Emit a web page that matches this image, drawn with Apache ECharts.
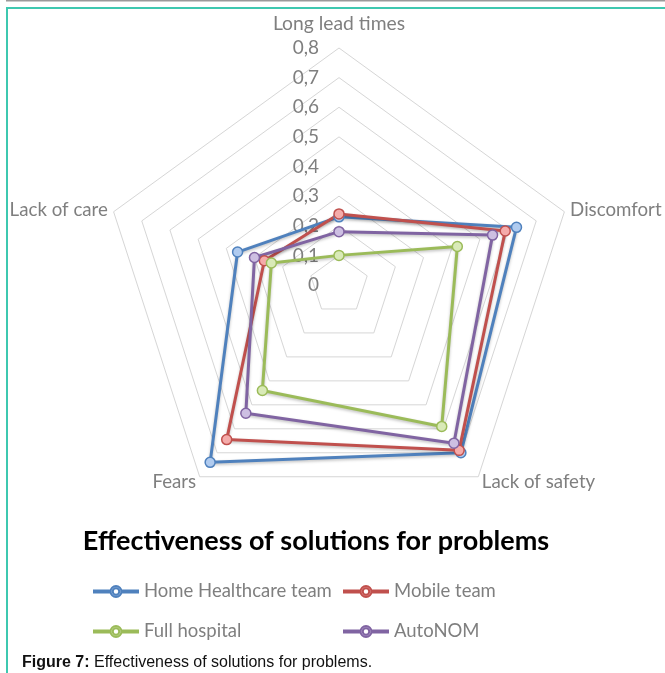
<!DOCTYPE html>
<html>
<head>
<meta charset="utf-8">
<script src="https://cdn.jsdelivr.net/npm/echarts@6/dist/echarts.min.js"></script>
<style>
html,body{margin:0;padding:0;background:#fff;}
#c{width:665px;height:673px;}
</style>
</head>
<body>
<div id="c"></div>
<script>
// Indicators in ECharts order (counter-clockwise from the top)
const indicators = ['Long lead times', 'Lack of care', 'Fears', 'Lack of safety', 'Discomfort'];
const seriesNames = ['Home Healthcare team', 'Mobile team', 'Full hospital', 'AutoNOM'];
const homeHealthcare = [0.23, 0.36, 0.74, 0.70, 0.63];
const mobileTeam     = [0.24, 0.265, 0.645, 0.69, 0.59];
const fullHospital   = [0.10, 0.24, 0.44, 0.59, 0.42];
const autoNOM        = [0.18, 0.30, 0.535, 0.66, 0.545];
const axisMax = 0.8;
const axisSplits = 8;

const mainColors = ['#4F81BD', '#C0504D', '#9BBB59', '#8064A2'];
const fillColors = ['#B0CBEF', '#F4ABAA', '#D9EAB8', '#CDBFE2'];
const values = [homeHealthcare, mobileTeam, fullHospital, autoNOM];

const legendIcon = 'path://M0,5h16v2h-16z M28,5h16v2h-16z M16.5,6a5.5,5.5 0 1,0 11,0a5.5,5.5 0 1,0 -11,0z M18.8,6a3.2,3.2 0 1,1 6.4,0a3.2,3.2 0 1,1 -6.4,0z';
const legendPos = [[88, 577], [338, 577], [88, 617], [338, 617]];

const chart = echarts.init(document.getElementById('c'));
chart.setOption({
  backgroundColor: '#fff',
  animation: false,
  title: [
    {
      text: 'Effectiveness of solutions for problems',
      left: 311, textAlign: 'center', top: 523,
      textStyle: {color: '#000', fontSize: 27, fontWeight: 'bold', fontFamily: 'Lato'}
    },
    {
      text: '{b|Figure 7:} Effectiveness of solutions for problems.',
      left: 17, top: 650,
      textStyle: {
        color: '#111', fontSize: 16, fontWeight: 'normal', fontFamily: 'Liberation Sans',
        rich: {b: {fontWeight: 'bold', fontSize: 16, fontFamily: 'Liberation Sans', color: '#111'}}
      }
    }
  ],
  legend: seriesNames.map((n, i) => ({
    icon: legendIcon,
    itemWidth: 44,
    itemHeight: 12,
    left: legendPos[i][0],
    top: legendPos[i][1],
    data: [n],
    textStyle: {color: '#7f7f7f', fontSize: 18.5, fontFamily: 'Lato', padding: [0, 0, 0, 1]}
  })),
  radar: {
    center: [339, 285],
    radius: 237,
    startAngle: 90,
    splitNumber: axisSplits,
    shape: 'polygon',
    nameGap: 6,
    axisName: {
      color: '#7f7f7f', fontSize: 18.7, fontFamily: 'Lato',
      formatter: (name) => name === indicators[0] ? '{t|' + name + '}' : name,
      rich: {t: {color: '#7f7f7f', fontSize: 19.3, fontFamily: 'Lato', padding: [0, 0, 9, 0]}}
    },
    splitLine: {lineStyle: {color: '#d6d6d6', width: 1}},
    splitArea: {show: false},
    axisLine: {show: false},
    axisTick: {show: false},
    axisLabel: {show: false},
    indicator: indicators.map((name, i) => {
      const ind = {name: name, min: 0, max: axisMax};
      if (i === 0) {
        ind.axisLabel = {
          show: true, color: '#7f7f7f', fontSize: 19, fontFamily: 'Lato', margin: 20,
          formatter: v => String(Math.round(v * 10) / 10).replace('.', ',')
        };
      }
      return ind;
    })
  },
  series: [{
    type: 'radar',
    symbol: 'circle',
    symbolSize: 10,
    emphasis: {disabled: true},
    data: seriesNames.map((n, i) => ({
      name: n,
      value: values[i],
      lineStyle: {color: mainColors[i], width: 3, shadowColor: 'rgba(0,0,0,0.25)', shadowBlur: 3, shadowOffsetY: 1.5},
      itemStyle: {color: mainColors[i], borderColor: mainColors[i], borderWidth: 1.5}
    }))
  }],
  graphic: [
    {type: 'rect', shape: {x: 6, y: 0, width: 659, height: 1.5}, style: {fill: '#9a9a9a'}, silent: true},
    {type: 'rect', shape: {x: 6, y: 7, width: 659, height: 2}, style: {fill: '#3ec8b0'}, silent: true},
    {type: 'rect', shape: {x: 6, y: 7, width: 2, height: 666}, style: {fill: '#3ec8b0'}, silent: true}
  ]
});
// marker fill lighter than the line
chart.setOption({
  series: [{
    data: seriesNames.map((n, i) => ({
      name: n,
      value: values[i],
      lineStyle: {color: mainColors[i], width: 3, shadowColor: 'rgba(0,0,0,0.25)', shadowBlur: 3, shadowOffsetY: 1.5},
      itemStyle: {color: fillColors[i], borderColor: mainColors[i], borderWidth: 1.5}
    }))
  }]
});
</script>
</body>
</html>
